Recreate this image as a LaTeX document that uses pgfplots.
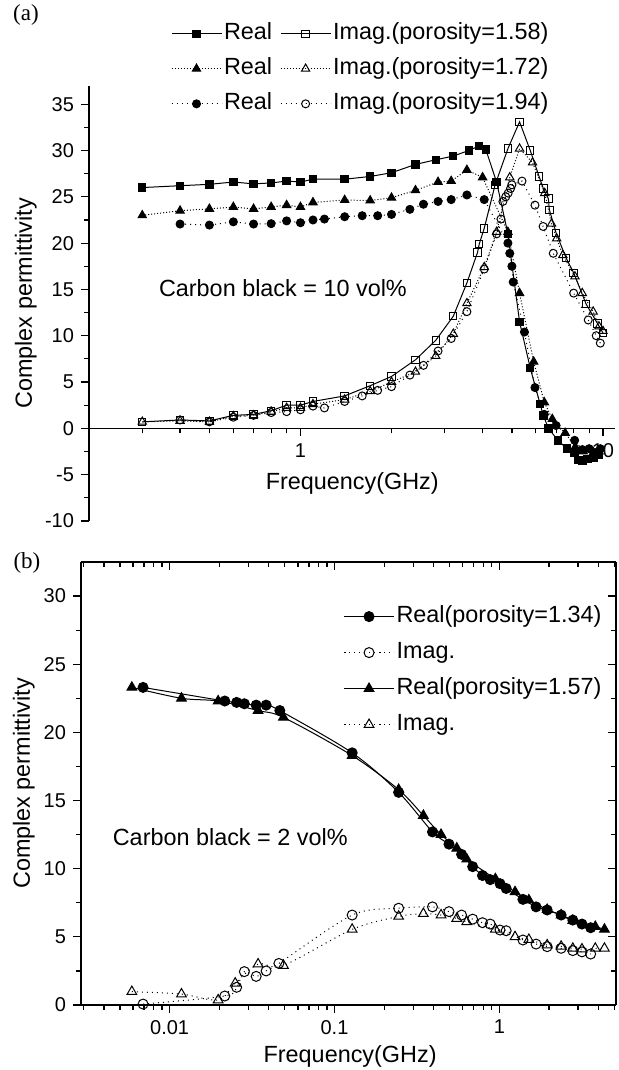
\documentclass[border=0pt]{standalone}
\usepackage{fontspec}
\setmainfont{Liberation Sans}
\newfontfamily\tagfont{Liberation Serif}
\usepackage{pgfplots}
\pgfplotsset{compat=1.18}

\pgfplotsset{
  legend image code/.code={\draw[mark repeat=2,mark phase=2,#1] plot coordinates {(0pt,0pt) (12.5pt,0pt) (25pt,0pt)};},
  re/.style={black, line width=0.5pt, mark options={solid, fill=black}},
  im/.style={black, line width=0.5pt, mark options={solid, fill=white}},
}

\begin{document}
\begin{tikzpicture}
\path[use as bounding box] (0,0) rectangle (309pt,-535pt);

% ---------- (a) carbon black 10 vol%
\begin{axis}[scale only axis, xmode=log,
  font=\fontsize{11.7}{14}\selectfont,
  tick label style={font=\fontsize{10}{12}\selectfont},
  /pgf/number format/assume math mode=true,
  major tick length=4pt, minor tick length=2.5pt,
  every tick/.append style={black, line width=0.6pt},
  axis line style={line width=0.8pt},
  legend cell align=left,
  at={(44.5pt,-260.45pt)}, anchor=south west,
  width=263.25pt, height=217.6pt,
  xmin=0.2, xmax=11, ymin=-10, ymax=37,
  axis x line*=middle, axis y line*=left,
  tick align=outside,
  xtick={1,10}, xticklabels={1,10},
  minor xtick={0.2,0.3,0.4,0.5,0.6,0.7,0.8,0.9,2,3,4,5,6,7,8,9},
  ytick={-10,-5,...,35},
  minor ytick={-7.5,-2.5,...,32.5},
  xlabel={Frequency(GHz)}, ylabel={Complex permittivity},
  every axis x label/.style={at={(axis description cs:0.5,0.085)}, anchor=center},
  every axis y label/.style={at={(axis description cs:-0.12,0.5)}, rotate=90, anchor=center},
  legend columns=2,
  legend style={draw=none, fill=none, inner sep=0pt, row sep=4.5pt,
    at={(axis description cs:0.155,1.150)}, anchor=north west,
    nodes={inner sep=1pt, text height=8.5pt, text depth=2.5pt},
    /tikz/every even column/.style={column sep=3pt}},
]
\addplot[re, mark=square*, mark size=1.85pt] coordinates {
(0.3,26.0)(0.4,26.2)(0.5,26.35)(0.6,26.6)(0.7,26.4)(0.8,26.5)(0.9,26.7)(1.0,26.6)(1.1,26.9)(1.4,26.9)(1.7,27.2)(2.0,27.6)(2.4,28.5)(2.8,29.0)(3.2,29.4)(3.6,30.0)(3.9,30.5)(4.1,30.1)(4.45,26.6)(4.85,21.0)(5.3,11.5)(5.75,6.5)(6.2,2.6)(6.35,1.4)(6.6,0.0)(7.1,-1.3)(7.6,-2.2)(8.05,-2.6)(8.3,-3.4)(8.55,-3.5)(8.9,-3.3)(9.3,-3.2)(9.7,-2.9)};
\addlegendentry{Real}
\addplot[im, mark=square, mark size=1.85pt] coordinates {
(0.3,0.7)(0.4,0.9)(0.5,0.8)(0.6,1.4)(0.7,1.5)(0.8,1.9)(0.9,2.5)(1.0,2.5)(1.1,2.9)(1.4,3.5)(1.7,4.6)(2.0,5.6)(2.4,7.4)(2.8,9.5)(3.2,12.1)(3.55,15.7)(3.85,19.0)(3.9,19.9)(4.05,21.6)(4.4,26.3)(4.85,30.2)(5.3,33.1)(5.75,30.0)(6.15,27.2)(6.35,25.9)(6.6,24.8)(6.65,23.6)(7.0,21.1)(7.55,18.4)(8.0,16.8)(8.8,13.4)(9.6,11.3)(10.0,10.3)};
\addlegendentry{Imag.(porosity=1.58)}
\addplot[re, densely dotted, mark=triangle*, mark size=2.4pt] coordinates {
(0.3,23.0)(0.4,23.5)(0.5,23.7)(0.6,23.9)(0.7,23.7)(0.8,23.9)(0.9,24.1)(1.0,23.9)(1.1,24.4)(1.4,24.65)(1.7,24.6)(2.0,24.9)(2.4,25.7)(2.85,26.6)(3.15,26.7)(3.55,27.9)(4.0,27.1)(4.85,21.2)(5.3,14.6)(5.9,7.2)(6.4,2.8)(6.8,1.0)(7.5,-0.5)(8.1,-2.0)(8.6,-2.5)(9.3,-2.6)(9.7,-2.5)};
\addlegendentry{Real}
\addplot[im, densely dotted, mark=triangle, mark size=2.4pt] coordinates {
(0.3,0.7)(0.4,0.8)(0.5,0.7)(0.6,1.3)(0.7,1.4)(0.8,1.8)(0.9,2.2)(1.0,2.2)(1.1,2.6)(1.4,3.1)(1.7,4.0)(2.0,5.0)(2.4,6.1)(2.8,7.8)(3.2,10.2)(3.55,13.5)(4.05,17.4)(4.45,21.2)(4.92,27.1)(5.3,30.2)(5.85,28.7)(6.42,25.4)(6.76,22.1)(7.03,20.5)(7.37,18.7)(8.08,16.4)(8.54,14.6)(9.28,12.6)(9.7,11.0)(10.0,10.5)};
\addlegendentry{Imag.(porosity=1.72)}
\addplot[re, dotted, mark=*, mark size=2pt] coordinates {
(0.4,22.06)(0.5,21.95)(0.6,22.3)(0.7,22.06)(0.8,22.1)(0.9,22.4)(1.0,22.2)(1.1,22.5)(1.2,22.6)(1.4,22.85)(1.6,22.96)(1.8,22.96)(2.0,23.1)(2.3,23.65)(2.55,24.2)(2.85,24.5)(3.15,24.7)(3.55,25.2)(4.05,24.7)(4.85,20.0)(4.92,18.9)(5.0,17.5)(5.05,15.8)(5.5,10.4)(5.96,4.4)(6.4,1.5)(7.0,0.3)(8.06,-1.3)(8.55,-2.3)(9.0,-2.2)(9.5,-2.6)(9.8,-2.2)};
\addlegendentry{Real}
\addplot[im, dotted, mark=o, mark size=2pt] coordinates {
(0.4,0.9)(0.5,0.7)(0.6,1.2)(0.7,1.4)(0.8,1.7)(0.9,1.8)(1.0,2.0)(1.1,2.4)(1.2,2.2)(1.4,2.9)(1.6,3.5)(1.8,4.1)(2.0,4.5)(2.3,5.75)(2.55,6.8)(2.85,8.35)(3.15,9.7)(3.55,12.6)(4.05,17.2)(4.45,21.0)(4.6,22.6)(4.67,24.5)(4.77,25.0)(4.86,25.4)(4.95,25.9)(5.0,26.3)(5.4,26.7)(5.96,24.1)(6.34,21.8)(6.85,18.9)(8.0,14.6)(8.94,11.7)(9.5,10.0)(9.8,9.2)};
\addlegendentry{Imag.(porosity=1.94)}
\node[anchor=west] at (axis cs:0.323,15.15) {Carbon black = 10 vol\%};
\end{axis}

% ---------- (b) carbon black 2 vol%: mirror ticks on top and right
\begin{axis}[scale only axis, xmode=log,
  major tick length=4pt, minor tick length=2.5pt,
  every tick/.append style={black, line width=0.6pt},
  axis line style={line width=0.8pt},
  at={(40.5pt,-502.5pt)}, anchor=south west,
  width=267.5pt, height=221.5pt,
  xmin=0.0029, xmax=5.1, ymin=0, ymax=32.5,
  axis x line*=top, axis y line*=right,
  tick align=inside,
  xtick={0.01,0.1,1}, xticklabels={},
  minor xtick={0.003,0.004,0.005,0.006,0.007,0.008,0.009,0.02,0.03,0.04,0.05,0.06,0.07,0.08,0.09,0.2,0.3,0.4,0.5,0.6,0.7,0.8,0.9,2,3,4,5},
  ytick={0,5,...,30}, yticklabels={},
  minor ytick={2.5,7.5,...,27.5},
]
\end{axis}
\begin{axis}[scale only axis, xmode=log,
  font=\fontsize{11.7}{14}\selectfont,
  tick label style={font=\fontsize{10}{12}\selectfont},
  /pgf/number format/assume math mode=true,
  major tick length=4pt, minor tick length=2.5pt,
  every tick/.append style={black, line width=0.6pt},
  axis line style={line width=0.8pt},
  legend cell align=left,
  at={(40.5pt,-502.5pt)}, anchor=south west,
  width=267.5pt, height=221.5pt,
  xmin=0.0029, xmax=5.1, ymin=0, ymax=32.5,
  axis x line*=bottom, axis y line*=left,
  tick align=outside,
  xtick={0.01,0.1,1}, xticklabels={0.01,0.1,1},
  minor xtick={0.003,0.004,0.005,0.006,0.007,0.008,0.009,0.02,0.03,0.04,0.05,0.06,0.07,0.08,0.09,0.2,0.3,0.4,0.5,0.6,0.7,0.8,0.9,2,3,4,5},
  ytick={0,5,...,30},
  minor ytick={2.5,7.5,...,27.5},
  xlabel={Frequency(GHz)}, ylabel={Complex permittivity},
  every axis x label/.style={at={(axis description cs:0.503,-0.117)}, anchor=center},
  every axis y label/.style={at={(axis description cs:-0.107,0.5)}, rotate=90, anchor=center},
  legend style={draw=none, fill=none, inner sep=0pt, row sep=5pt,
    at={(axis description cs:0.49,0.907)}, anchor=north west,
    nodes={inner sep=1pt, text height=8.5pt, text depth=2.5pt}},
]
\addplot[re, smooth, mark=*, mark size=2.5pt] coordinates {
(0.0069,23.3)(0.0216,22.3)(0.0255,22.2)(0.0284,22.1)(0.0335,22.0)(0.0385,22.0)(0.0466,21.6)(0.128,18.5)(0.245,15.6)(0.393,12.7)(0.495,11.8)(0.59,11.05)(0.689,10.15)(0.79,9.5)(0.88,9.2)(1.01,8.9)(1.1,8.55)(1.39,7.75)(1.67,7.2)(1.95,6.97)(2.37,6.6)(2.79,6.23)(3.17,5.94)(3.58,5.67)};
\addlegendentry{Real(porosity=1.34)}
\addplot[im, smooth, dotted, mark=o, mark size=2.5pt] coordinates {
(0.0069,0.07)(0.0216,0.66)(0.0255,1.3)(0.0284,2.45)(0.0335,2.1)(0.0385,2.5)(0.046,3.05)(0.128,6.6)(0.245,7.1)(0.393,7.2)(0.495,6.85)(0.59,6.6)(0.689,6.3)(0.79,6.04)(0.88,5.94)(1.01,5.5)(1.1,5.45)(1.39,4.77)(1.67,4.47)(1.95,4.28)(2.37,4.16)(2.79,3.99)(3.17,3.9)(3.58,3.74)};
\addlegendentry{Imag.}
\addplot[re, smooth, mark=triangle*, mark size=2.8pt] coordinates {
(0.0059,23.3)(0.0118,22.5)(0.0197,22.3)(0.0344,21.6)(0.049,21.1)(0.128,18.3)(0.245,15.8)(0.346,13.9)(0.443,12.5)(0.552,11.5)(0.634,10.7)(0.946,9.25)(1.245,8.3)(1.51,7.7)(1.95,7.0)(2.37,6.6)(2.79,6.2)(3.82,5.75)(4.34,5.55)};
\addlegendentry{Real(porosity=1.57)}
\addplot[im, smooth, dotted, mark=triangle, mark size=2.8pt] coordinates {
(0.0059,0.98)(0.0118,0.8)(0.0197,0.37)(0.025,1.6)(0.0344,3.0)(0.049,2.9)(0.128,5.55)(0.245,6.5)(0.346,6.7)(0.443,6.6)(0.552,6.35)(0.634,6.1)(0.946,5.55)(1.245,5.0)(1.51,4.8)(1.95,4.4)(2.37,4.3)(2.79,4.15)(3.17,4.1)(3.82,4.15)(4.34,4.15)};
\addlegendentry{Imag.}
\node[anchor=west] at (axis cs:0.0041,12.3) {Carbon black = 2 vol\%};
\end{axis}

\node[font=\tagfont\fontsize{11.5}{13}\selectfont] at (13pt,-7.5pt) {(a)};
\node[font=\tagfont\fontsize{11.5}{13}\selectfont] at (13.5pt,-281.5pt) {(b)};
\end{tikzpicture}
\end{document}
